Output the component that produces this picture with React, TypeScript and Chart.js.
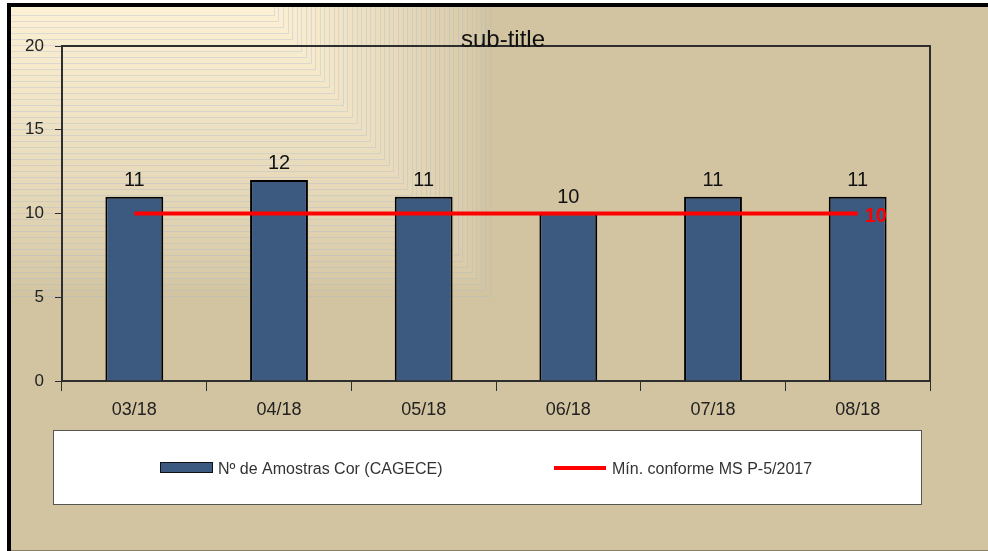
import { useEffect, useRef } from 'react';
import { Chart, registerables } from 'chart.js';

Chart.register(...registerables);

const categories = ['03/18', '04/18', '05/18', '06/18', '07/18', '08/18'];
const samples = [11, 12, 11, 10, 11, 11];
const minimum = [10, 10, 10, 10, 10, 10];
const yTicks = [0, 5, 10, 15, 20];
const seriesNames = ['Nº de Amostras Cor (CAGECE)', 'Mín. conforme MS P-5/2017'];
const titleText = 'sub-title';

const FONT = "'Liberation Sans', Arial, sans-serif";
const BAR_FILL = '#3c5a80';
const TAN = [211, 196, 161];
const CREAM = [252, 240, 212];

const backgroundPlugin = {
  id: 'bgFrame',
  beforeDraw(chart: any) {
    const ctx = chart.ctx;
    const W = chart.width;
    const H = chart.height;
    ctx.save();
    ctx.fillStyle = '#ffffff';
    ctx.fillRect(0, 0, W, H);
    ctx.fillStyle = `rgb(${TAN.join(',')})`;
    ctx.fillRect(9, 5, W - 9, H - 6);
    // concentric rectangles gradient (top-left)
    ctx.beginPath();
    ctx.rect(11, 7, W - 11, H - 8);
    ctx.clip();
    const n = 48;
    for (let i = 0; i < n; i++) {
      const w = 490 - i * 4.6;
      const h = 1.3 * (w - 262);
      if (h <= 0) break;
      const t = Math.pow(i / (n - 1), 0.8);
      const c = TAN.map((v, k) => Math.round(v + (CREAM[k] - v) * t));
      ctx.fillStyle = `rgb(${c.join(',')})`;
      ctx.fillRect(0, 0, w, h);
      ctx.strokeStyle = 'rgba(170,185,205,0.35)';
      ctx.lineWidth = 1;
      ctx.beginPath();
      ctx.moveTo(0, Math.round(h) + 0.5);
      ctx.lineTo(Math.round(w) + 0.5, Math.round(h) + 0.5);
      ctx.lineTo(Math.round(w) + 0.5, 0);
      ctx.stroke();
    }
    ctx.restore();
    ctx.save();
    // frame
    ctx.fillStyle = '#000000';
    ctx.fillRect(7, 3, W - 7, 4);
    ctx.fillRect(7, 3, 4, H - 3);
    ctx.fillStyle = '#8a8068';
    ctx.fillRect(11, H - 1, W - 11, 1);
    ctx.restore();
  },
  afterDatasetsDraw(chart: any) {
    const ctx = chart.ctx;
    const a = chart.chartArea;
    ctx.save();
    ctx.strokeStyle = '#2e2e2e';
    ctx.lineWidth = 2;
    ctx.beginPath();
    ctx.moveTo(a.left, a.top);
    ctx.lineTo(a.right, a.top);
    ctx.lineTo(a.right, a.bottom);
    ctx.stroke();
    // bar value labels
    const meta = chart.getDatasetMeta(0);
    ctx.font = `20px ${FONT}`;
    ctx.fillStyle = '#111111';
    ctx.textAlign = 'center';
    ctx.textBaseline = 'alphabetic';
    meta.data.forEach((el: any, i: number) => {
      ctx.fillText(String(samples[i]), el.x, el.y - 11);
    });
    // line end label
    const lm = chart.getDatasetMeta(1);
    const last = lm.data[lm.data.length - 1];
    ctx.font = `bold 20px ${FONT}`;
    ctx.fillStyle = '#ff0000';
    ctx.textAlign = 'left';
    ctx.textBaseline = 'alphabetic';
    ctx.fillText(String(minimum[minimum.length - 1]), last.x + 7, last.y + 8);
    ctx.restore();
  },
  afterDraw(chart: any) {
    const ctx = chart.ctx;
    ctx.save();
    // title
    ctx.font = `24px ${FONT}`;
    ctx.fillStyle = '#111111';
    ctx.textAlign = 'center';
    ctx.textBaseline = 'alphabetic';
    ctx.fillText(titleText, 503, 47);
    // legend box
    ctx.fillStyle = '#ffffff';
    ctx.fillRect(53, 430, 869, 75);
    ctx.strokeStyle = '#555555';
    ctx.lineWidth = 1;
    ctx.strokeRect(53.5, 430.5, 868, 74);
    // bar swatch
    ctx.fillStyle = BAR_FILL;
    ctx.fillRect(160, 462, 53, 11);
    ctx.strokeStyle = '#111111';
    ctx.strokeRect(160.5, 462.5, 52, 10);
    ctx.font = `16px ${FONT}`;
    ctx.fillStyle = '#333333';
    ctx.textAlign = 'left';
    ctx.textBaseline = 'alphabetic';
    ctx.fillText(chart.data.datasets[0].label, 218, 474);
    // line swatch
    ctx.fillStyle = '#ff0000';
    ctx.fillRect(554, 466, 52, 4);
    ctx.fillStyle = '#333333';
    ctx.fillText(chart.data.datasets[1].label, 612, 474);
    ctx.restore();
  },
};

export default function App() {
  const ref = useRef<HTMLCanvasElement | null>(null);
  useEffect(() => {
    if (!ref.current) return;
    const chart = new Chart(ref.current, {
      type: 'bar',
      data: {
        labels: categories,
        datasets: [
          {
            type: 'bar',
            label: seriesNames[0],
            data: samples,
            backgroundColor: BAR_FILL,
            borderColor: '#000000',
            borderWidth: 2,
            barPercentage: 0.4,
            categoryPercentage: 1,
            order: 2,
          },
          {
            type: 'line',
            label: seriesNames[1],
            data: minimum,
            borderColor: '#ff0000',
            borderWidth: 4,
            pointRadius: 0,
            fill: false,
            order: 1,
          } as any,
        ],
      },
      options: {
        responsive: false,
        animation: false,
        devicePixelRatio: 1,
        layout: { padding: { left: 0, top: 46, right: 58, bottom: 130 } },
        plugins: {
          legend: { display: false },
          title: { display: false },
          tooltip: { enabled: false },
        },
        scales: {
          x: {
            offset: true,
            grid: {
              offset: true,
              drawOnChartArea: false,
              drawTicks: true,
              tickLength: 10,
              color: '#2e2e2e',
              lineWidth: 1,
            },
            border: { display: true, color: '#2e2e2e', width: 2 },
            ticks: {
              color: '#222222',
              font: { family: FONT, size: 18 },
              padding: 8,
              maxRotation: 0,
            },
            afterFit: (s: any) => {
              s.height = 40;
            },
          },
          y: {
            min: 0,
            max: 20,
            grid: {
              drawOnChartArea: false,
              drawTicks: true,
              tickLength: 7,
              color: '#2e2e2e',
              lineWidth: 1,
            },
            border: { display: true, color: '#2e2e2e', width: 2 },
            afterBuildTicks: (s: any) => {
              s.ticks = yTicks.map((v) => ({ value: v }));
            },
            ticks: {
              color: '#222222',
              font: { family: FONT, size: 17 },
              padding: 11,
            },
            afterFit: (s: any) => {
              s.width = 62;
            },
          },
        },
      },
      plugins: [backgroundPlugin],
    });
    return () => chart.destroy();
  }, []);
  return (
    <div style={{ position: 'absolute', left: 0, top: 0, width: 988, height: 551 }}>
      <canvas ref={ref} width={988} height={551} style={{ display: 'block' }} />
    </div>
  );
}
